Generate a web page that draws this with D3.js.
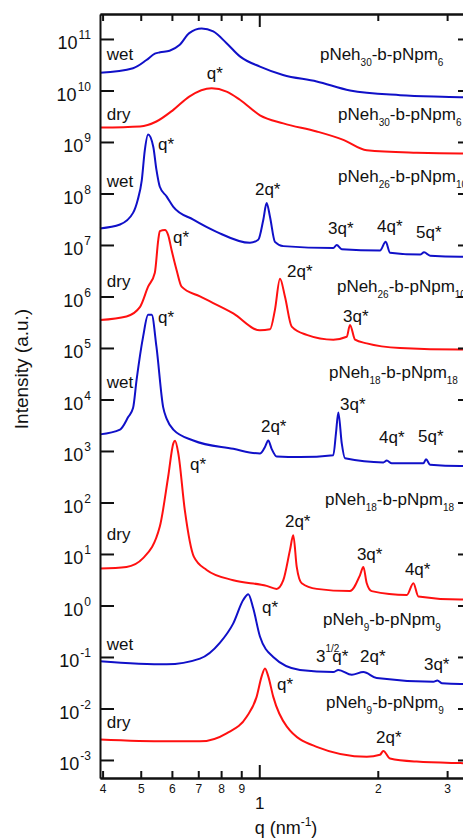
<!DOCTYPE html>
<html>
<head>
<meta charset="utf-8">
<script src="https://cdn.jsdelivr.net/npm/d3@7"></script>
<style>
body{margin:0;background:#fff;}
svg{display:block;font-family:"Liberation Sans",Arial,sans-serif;}
</style>
</head>
<body>
<div id="chart"></div>
<script>
// q (nm^-1) and intensity (a.u.), one pair per trace (traces are offset)
var q_wet30 = [0.394,0.478,0.517,0.543,0.56,0.592,0.627,0.664,0.714,0.764,0.826,0.893,1.004,1.149,1.399,1.70,2.28,3.24,3.47];
var I_wet30 = [2.2e10,2.7e10,3.9e10,5.2e10,5.5e10,5.9e10,7.6e10,1.3e11,1.6e11,1.4e11,8.3e10,4.6e10,2.9e10,2.0e10,1.5e10,1.0e10,8.1e9,7.4e9,7.2e9];
var q_dry30 = [0.394,0.498,0.548,0.605,0.664,0.757,0.826,0.893,1.004,1.151,1.399,1.635,1.875,2.51,3.24,3.47];
var I_dry30 = [1.9e9,2.0e9,2.5e9,4.2e9,7.6e9,1.1e10,9.5e9,6.6e9,3.3e9,2.3e9,1.6e9,1.1e9,6.9e8,6.2e8,6.0e8,6.0e8];
var q_wet26 = [0.394,0.443,0.478,0.491,0.503,0.512,0.522,0.538,0.548,0.559,0.582,0.605,0.680,0.779,0.947,0.994,1.024,1.044,1.065,1.096,1.151,1.542,1.573,1.620,2.026,2.095,2.148,2.561,2.622,2.716,3.24,3.47];
var I_wet26 = [2.1e7,2.5e7,4.2e7,7.4e7,1.8e8,6.9e8,1.4e9,8.1e8,2.9e8,1.35e8,8.7e7,5.5e7,3.1e7,1.8e7,1.1e7,1.26e7,3.1e7,6.5e7,3.5e7,1.15e7,9.5e6,8.7e6,1.0e7,8.3e6,7.8e6,1.15e7,7.1e6,6.5e6,7.2e6,6.2e6,5.9e6,5.9e6];
var q_dry26 = [0.394,0.460,0.498,0.522,0.543,0.554,0.559,0.576,0.587,0.599,0.617,0.635,0.707,0.859,1.004,1.065,1.096,1.129,1.162,1.209,1.320,1.542,1.668,1.700,1.751,1.875,2.279,3.24,3.47];
var I_dry26 = [3.5e5,4.1e5,6.3e5,1.55e6,2.9e6,1.26e7,1.86e7,1.95e7,1.55e7,7.9e6,3.2e6,1.55e6,1.0e6,4.7e5,2.2e5,2.3e5,5.5e5,2.2e6,1.0e6,2.6e5,1.8e5,1.45e5,1.65e5,2.8e5,1.45e5,1.23e5,1.0e5,9.3e4,9.3e4];
var q_wet18 = [0.394,0.443,0.465,0.478,0.488,0.507,0.522,0.533,0.548,0.570,0.582,0.605,0.680,0.859,1.004,1.034,1.054,1.075,1.107,1.269,1.542,1.566,1.588,1.620,1.651,2.066,2.108,2.170,2.611,2.652,2.716,3.24,3.47];
var I_wet18 = [2.1e3,2.6e3,4.6e3,6.8e3,2.4e4,1.66e5,4.4e5,4.4e5,1.07e5,7.1e3,4.2e3,2.6e3,1.6e3,1.1e3,890,1.2e3,1.6e3,1.1e3,780,760,830,2.2e3,5.6e3,1.4e3,720,600,650,575,575,690,540,510,510];
var q_dry18 = [0.394,0.460,0.507,0.559,0.587,0.605,0.611,0.623,0.647,0.682,0.735,0.859,1.044,1.107,1.151,1.197,1.220,1.245,1.282,1.399,1.700,1.803,1.838,1.875,1.930,2.370,2.463,2.535,3.24,3.47];
var I_dry18 = [5.2,5.6,8.3,34,316,1.41e3,1.58e3,890,71,8.9,4.9,3.1,2.4,2.1,3.1,12,23,5.6,2.7,2.1,1.9,3.9,5.6,2.7,1.9,1.6,2.7,1.5,1.3,1.3];
var q_wet9 = [0.394,0.582,0.707,0.795,0.859,0.911,0.938,0.965,1.004,1.085,1.269,1.542,1.588,1.718,1.838,1.987,2.768,2.834,2.908,3.24,3.47];
var I_wet9 = [0.083,0.072,0.093,0.19,0.45,1.29,1.66,0.89,0.25,0.10,0.056,0.051,0.056,0.045,0.051,0.039,0.033,0.035,0.031,0.030,0.030];
var q_dry9 = [0.394,0.582,0.707,0.826,0.929,0.985,1.014,1.034,1.054,1.085,1.174,1.399,1.875,2.026,2.066,2.148,2.51,3.24,3.47];
var I_dry9 = [2.5e-3,2.3e-3,2.3e-3,3.3e-3,6.9e-3,0.017,0.042,0.060,0.042,0.017,4.5e-3,1.8e-3,1.15e-3,1.26e-3,1.5e-3,1.07e-3,9.3e-4,8.7e-4,8.6e-4];

// labels: _sub_ and ^sup^ markers
var stateText = ["wet","dry","wet","dry","wet","dry","wet","dry"];
var stateI = [3.9e10,2.7e9,1.35e8,1.5e6,1.66e4,18.6,0.135,4.2e-3];
var sampleText = ["pNeh_30_-b-pNpm_6_","pNeh_30_-b-pNpm_6_","pNeh_26_-b-pNpm_10_","pNeh_26_-b-pNpm_10_","pNeh_18_-b-pNpm_18_","pNeh_18_-b-pNpm_18_","pNeh_9_-b-pNpm_9_","pNeh_9_-b-pNpm_9_"];
var sampleQ = [1.426,1.585,1.585,1.575,1.503,1.469,1.452,1.477];
var sampleI = [3.9e10,2.7e9,1.7e8,1.23e6,2.6e4,89,0.42,0.0102];
var peakText = ["q*","q*","2q*","3q*","4q*","5q*","q*","2q*","q*","3q*","3q*","2q*","4q*","5q*","q*","2q*","3q*","4q*","q*","3^1/2^q*","2q*","3q*","q*","2q*"];
var peakQ = [0.736,0.553,0.975,1.495,1.991,2.502,0.604,1.176,0.553,1.632,1.604,1.01,2.014,2.531,0.667,1.162,1.77,2.344,1.016,1.393,1.803,2.62,1.109,1.98];
var peakI = [1.66e10,6.9e8,9.3e7,1.62e7,1.82e7,1.38e7,1.07e7,2.4e6,3.0e5,3.2e5,6.3e3,2.3e3,1.45e3,1.5e3,430,34,7.6,3.9,0.71,0.081,0.081,0.056,0.023,2.1e-3];

var minorQ = [0.4,0.5,0.6,0.7,0.8,0.9,2,3];
var majorQ = [1];
var decades = [1e-3,1e-2,1e-1,1e0,1e1,1e2,1e3,1e4,1e5,1e6,1e7,1e8,1e9,1e10,1e11];

var blue = "#1010c8", red = "#ff1010";
var traces = [
  {q:q_wet30,I:I_wet30,c:blue},{q:q_dry30,I:I_dry30,c:red},
  {q:q_wet26,I:I_wet26,c:blue},{q:q_dry26,I:I_dry26,c:red},
  {q:q_wet18,I:I_wet18,c:blue},{q:q_dry18,I:I_dry18,c:red},
  {q:q_wet9,I:I_wet9,c:blue},{q:q_dry9,I:I_dry9,c:red}
];

var width = 463, height = 840;
var svg = d3.select("#chart").append("svg")
  .attr("width", width).attr("height", height);

var x = d3.scaleLog().domain([0.394, 3.47]).range([100, 472]);
var y = d3.scaleLog().domain([Math.pow(10,-3.35), Math.pow(10,11.485)]).range([778, 14]);

var line = d3.line()
  .x(function(d){ return x(d[0]); })
  .y(function(d){ return y(d[1]); })
  .curve(d3.curveMonotoneX);

svg.append("g").selectAll("path")
  .data(traces)
  .enter().append("path")
  .attr("d", function(t){ return line(d3.zip(t.q, t.I)); })
  .attr("fill", "none")
  .attr("stroke", function(t){ return t.c; })
  .attr("stroke-width", 2);

// writes "a_sub_b^sup^" into a text element; a superscript hangs over the next glyph
function richText(sel, str, size){
  var parts = str.split(/([_^][^_^]*[_^])/);
  var shift = 0, afterSup = false;
  parts.forEach(function(p){
    if (!p) return;
    var kind = p[0];
    if ((kind == "_" || kind == "^") && p.length > 1 && p[p.length-1] == kind){
      var off = kind == "_" ? 6 : -10;
      sel.append("tspan").attr("dy", off - shift)
        .attr("font-size", Math.round(size*0.6) + "px")
        .text(p.slice(1, -1));
      shift = off;
      afterSup = kind == "^";
    } else {
      var ts = sel.append("tspan").attr("dy", -shift).text(p);
      if (afterSup) ts.attr("dx", -7);
      shift = 0;
      afterSup = false;
    }
  });
}

var labels = svg.append("g").attr("font-size", "17px").attr("fill", "#111");
stateText.forEach(function(s, i){
  labels.append("text").attr("x", x(0.41)).attr("y", y(stateI[i])).text(s);
});
sampleText.forEach(function(s, i){
  var t = labels.append("text").attr("x", x(sampleQ[i])).attr("y", y(sampleI[i]));
  richText(t, s, 17);
});
peakText.forEach(function(s, i){
  var t = labels.append("text").attr("x", x(peakQ[i])).attr("y", y(peakI[i]));
  richText(t, s, 17);
});

// axes, ticks pointing inward
function styleAxis(g){
  g.selectAll("path,line").attr("stroke", "#111").attr("stroke-width", 2);
}
var gx = svg.append("g").attr("transform", "translate(0,778)");
gx.call(d3.axisBottom(x).tickValues(minorQ).tickSize(-7).tickSizeOuter(0).tickPadding(6)
  .tickFormat(function(d){ return d < 1 ? Math.round(d*10) : d; }))
  .call(styleAxis);
gx.selectAll("text").attr("font-size", "12px").attr("fill", "#111");
var gx2 = svg.append("g").attr("transform", "translate(0,778)");
gx2.call(d3.axisBottom(x).tickValues(majorQ).tickSize(-13).tickSizeOuter(0).tickPadding(19)
  .tickFormat(d3.format("d")))
  .call(styleAxis);
gx2.selectAll("text").attr("font-size", "17px").attr("fill", "#111");

var gt = svg.append("g").attr("transform", "translate(0,14)");
gt.call(d3.axisTop(x).tickValues(minorQ).tickSize(-7).tickSizeOuter(0).tickFormat(""))
  .call(styleAxis);
svg.append("g").attr("transform", "translate(0,14)")
  .call(d3.axisTop(x).tickValues(majorQ).tickSize(-13).tickSizeOuter(0).tickFormat(""))
  .call(styleAxis);

var gy = svg.append("g").attr("transform", "translate(100,0)");
gy.call(d3.axisLeft(y).tickValues(decades).tickSize(-14).tickSizeOuter(0).tickPadding(9)
  .tickFormat(""))
  .call(styleAxis);
gy.selectAll(".tick text").each(function(d){
  var t = d3.select(this).attr("font-size", "18px").attr("fill", "#111").attr("dy", "0.55em");
  t.append("tspan").text("10");
  t.append("tspan").attr("dy", -10).attr("dx", 1).attr("font-size", "12px")
    .text(Math.round(Math.log10(d)));
});
svg.append("g").attr("transform", "translate(472,0)")
  .call(d3.axisRight(y).tickValues(decades).tickSize(-14).tickSizeOuter(0).tickFormat(""))
  .call(styleAxis);

// axis titles
var xt = svg.append("text").attr("x", 286).attr("y", 834)
  .attr("text-anchor", "middle").attr("font-size", "18px").attr("fill", "#111");
xt.append("tspan").text("q (nm");
xt.append("tspan").attr("dy", -8).attr("font-size", "12px").text("-1");
xt.append("tspan").attr("dy", 8).text(")");

svg.append("text")
  .attr("transform", "translate(28,369) rotate(-90)")
  .attr("text-anchor", "middle").attr("font-size", "19px").attr("fill", "#111")
  .text("Intensity (a.u.)");
</script>
</body>
</html>
